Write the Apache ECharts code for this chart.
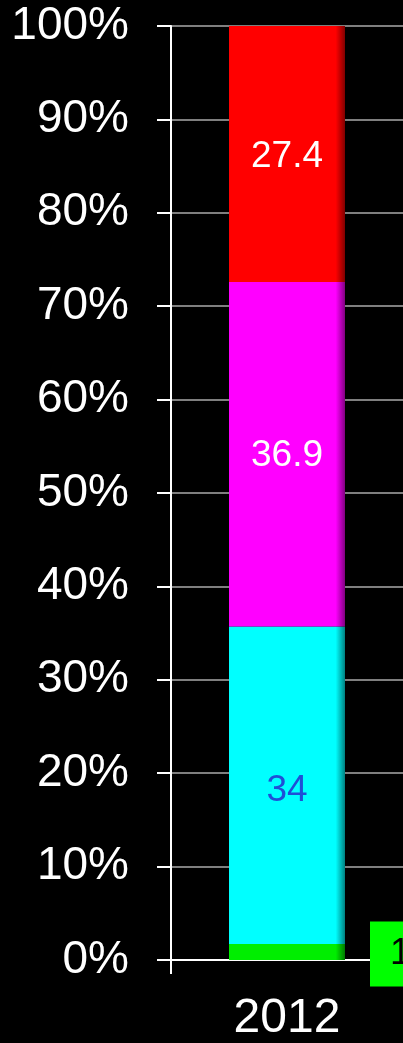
<!DOCTYPE html>
<html><head><meta charset="utf-8">
<script src="https://cdn.jsdelivr.net/npm/echarts@6/dist/echarts.min.js"></script>
<style>html,body{margin:0;padding:0;background:#000;}#c{width:403px;height:1043px;}</style>
</head><body><div id="c"></div>
<script>
const categories = ['2012'];
const greenValues = [1.7];
const cyanValues = [34];
const magentaValues = [36.9];
const redValues = [27.4];
const yTicks = [0, 10, 20, 30, 40, 50, 60, 70, 80, 90, 100];

const chart = echarts.init(document.getElementById('c'));
const font = '"Liberation Sans", Arial, sans-serif';
function grad(c, dark) {
  return new echarts.graphic.LinearGradient(0, 0, 1, 0, [
    { offset: 0, color: c }, { offset: 0.92, color: c }, { offset: 1, color: dark }
  ]);
}
function seg(name, data, color, dark, label) {
  return {
    name, type: 'bar', stack: 's', data, barWidth: '50%',
    itemStyle: { color: grad(color, dark) },
    label: label
  };
}
const inLabel = (c, dy) => ({ show: true, position: 'inside', offset: [0, dy], color: c, fontSize: 37, fontFamily: font, formatter: '{c}' });
chart.setOption({
  backgroundColor: '#000',
  animation: false,
  grid: { left: 171, right: 0, top: 26, bottom: 79 },
  xAxis: {
    type: 'category', data: categories,
    axisLine: { lineStyle: { color: '#fff', width: 2 } },
    axisTick: { show: true, length: 14, lineStyle: { color: '#fff', width: 2 } },
    axisLabel: { color: '#fff', fontSize: 48, fontFamily: font, margin: 35 }
  },
  yAxis: {
    type: 'value', min: yTicks[0], max: yTicks[yTicks.length - 1], interval: 10,
    axisLine: { show: true, lineStyle: { color: '#fff', width: 2 } },
    axisTick: { show: true, length: 14, lineStyle: { color: '#fff', width: 2 } },
    splitLine: { lineStyle: { color: '#7f7f7f', width: 2 } },
    axisLabel: { color: '#fff', fontSize: 46, fontFamily: font, margin: 42, formatter: v => v + '%' }
  },
  series: [
    seg('g', greenValues, '#00ee00', '#007a00', {
      show: true, position: 'right', distance: 25, formatter: '{c}',
      backgroundColor: '#00ff00', color: '#000', fontSize: 37, fontFamily: font,
      padding: [14, 10, 14, 20], offset: [0, 2]
    }),
    seg('c', cyanValues, '#00ffff', '#008080', inLabel('#1f4fd6', 5)),
    seg('m', magentaValues, '#ff00ff', '#800080', inLabel('#fff', 2)),
    seg('r', redValues, '#ff0000', '#800000', inLabel('#fff', 3))
  ]
});
</script></body></html>
